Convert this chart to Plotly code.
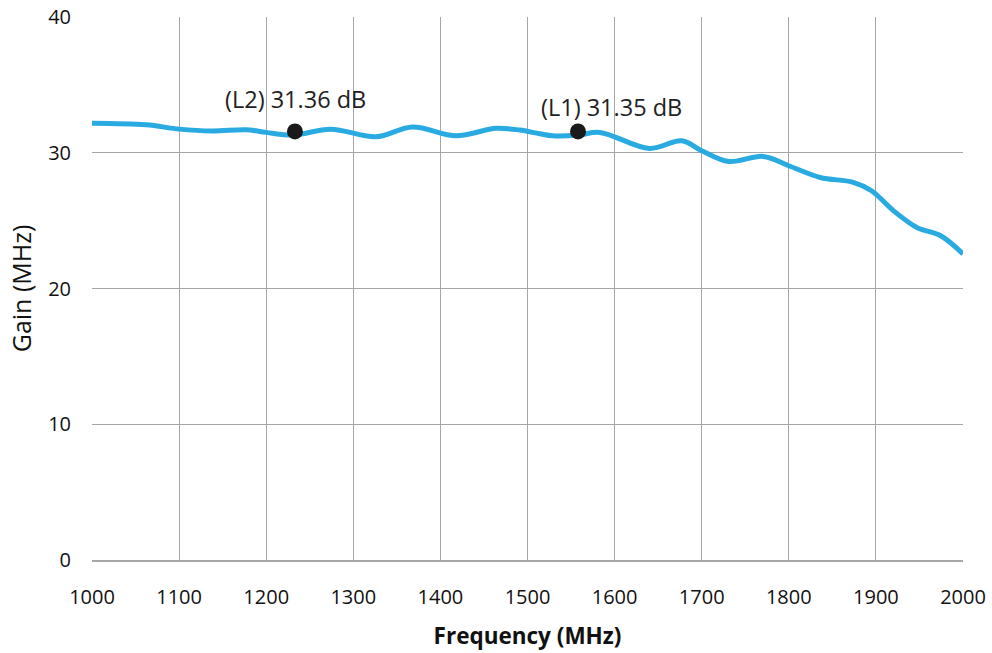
import plotly.graph_objects as go

freq = [1000, 1062, 1100, 1138, 1177, 1200, 1231, 1274, 1326, 1368, 1418, 1464, 1491, 1514, 1529,
        1558, 1583, 1640, 1677, 1700, 1731, 1771, 1800, 1836, 1874, 1895, 1920, 1947, 1974, 2000]
gain = [32.18, 32.06, 31.74, 31.6, 31.69, 31.5, 31.3, 31.74, 31.18, 31.9, 31.25, 31.8, 31.67, 31.4, 31.25,
        31.3, 31.5, 30.32, 30.88, 30.15, 29.36, 29.73, 29.04, 28.18, 27.82, 27.2, 25.74, 24.5, 23.9, 22.55]

marker_freq = [1233, 1558]
marker_gain = [31.57, 31.57]
marker_text = ["(L2) 31.36 dB", "(L1) 31.35 dB"]

x_ticks = list(range(1000, 2001, 100))
y_ticks = [0, 10, 20, 30, 40]

fig = go.Figure()
fig.add_trace(go.Scatter(x=freq, y=gain, mode="lines",
                         line=dict(color="#29abe2", width=5, shape="spline", smoothing=1.0),
                         hoverinfo="skip"))
fig.add_trace(go.Scatter(x=marker_freq, y=marker_gain, mode="markers",
                         marker=dict(color="#1a1a1a", size=16)))
offsets = [(1, 32), (33, 24)]
for f, g, t, (dx, dy) in zip(marker_freq, marker_gain, marker_text, offsets):
    fig.add_annotation(x=f, y=g, text=t, showarrow=False, xshift=dx, yshift=dy,
                       font=dict(family="Open Sans", size=23.5, color="#222222"))

fig.update_layout(
    width=992, height=653,
    margin=dict(l=92, r=29, t=17, b=93),
    paper_bgcolor="white", plot_bgcolor="white",
    showlegend=False,
    font=dict(family="Open Sans", size=20, color="#111111"),
)
fig.update_xaxes(range=[1000, 2000], tickvals=x_ticks, showgrid=True, gridcolor="#a6a6a6",
                 gridwidth=1.3, zeroline=False, showline=True, linecolor="#a6a6a6", linewidth=2,
                 ticks="", ticklabelstandoff=18, automargin=False, ticklabeloverflow="allow",
                 title=dict(text="<b>Frequency (MHz)</b>", font=dict(size=22.5), standoff=19))
fig.update_yaxes(range=[0, 40], tickvals=y_ticks, showgrid=True, gridcolor="#a6a6a6",
                 gridwidth=1.3, zeroline=False, showline=False,
                 ticks="", ticklabelstandoff=20, automargin=False, ticklabeloverflow="allow",
                 title=dict(text="Gain (MHz)", font=dict(size=25), standoff=9))

fig.write_html("out.html", config={"displayModeBar": False},
               post_script="document.body.style.margin='0';document.body.style.overflow='hidden';")
